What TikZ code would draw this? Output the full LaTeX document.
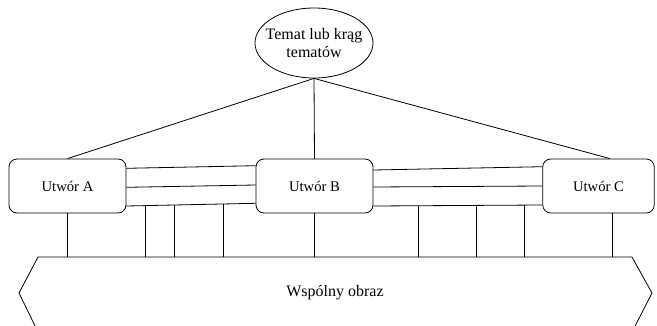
\documentclass[tikz,border=0pt]{standalone}
\usepackage{fontspec}
\setmainfont{Liberation Serif}
\usetikzlibrary{shapes.geometric,calc}
\begin{document}
\begin{tikzpicture}[x=0.75pt,y=-0.75pt,line width=0.6pt,
  txt/.style={font=\fontsize{12}{13.5}\selectfont,align=center},
  work/.style={draw,rounded corners=6pt,minimum width=87.75pt,minimum height=40.5pt,inner sep=0pt,txt,font=\fontsize{11}{13}\selectfont}]
\useasboundingbox (0,0) rectangle (657,325);
\clip (0,0) rectangle (657,325);
% theme
\node[draw,ellipse,minimum width=88.5pt,minimum height=52.5pt,inner sep=0pt] (theme) at (314,43) {};
\node[txt] (themetext) at (theme.center) {Temat lub krąg\\tematów};
% works
\node[work] (A) at (67.5,186) {Utwór A};
\node[work] (B) at (314.5,186) {Utwór B};
\node[work,minimum width=83.6pt] (C) at (598.5,186) {Utwór C};
% common image shape
\draw (38,332) -- (19,293) -- (38,257) -- (632,257) -- (652,293) -- (632,332);
\node[txt] (common) at (335,293) {Wspólny obraz};
\coordinate (ctop) at (0,257);
% theme to works
\draw (theme.south) -- (A.north);
\draw (theme.south) -- (B.north);
\draw (theme.south) -- ($(C.north)+(11.5,0)$);
% A-B links
\coordinate (ab1) at (A.east |- 0,168.3); \coordinate (ba1) at (B.west |- 0,165.7);
\coordinate (ab2) at (A.east |- 0,187.3); \coordinate (ba2) at (B.west |- 0,185);
\coordinate (ab3) at (A.east |- 0,206);   \coordinate (ba3) at (B.west |- 0,203.3);
\draw (ab1) -- (ba1); \draw (ab2) -- (ba2); \draw (ab3) -- (ba3);
% B-C links
\coordinate (bc1) at (B.east |- 0,170); \coordinate (cb1) at (C.west |- 0,166.7);
\coordinate (bc2) at (B.east |- 0,187); \coordinate (cb2) at (C.west |- 0,186);
\coordinate (bc3) at (B.east |- 0,206); \coordinate (cb3) at (C.west |- 0,205);
\draw (bc1) -- (cb1); \draw (bc2) -- (cb2); \draw (bc3) -- (cb3);
% verticals to common image
\draw ($(C.south)+(13.5,0)$) -- ($(C.south |- ctop)+(13.5,0)$);
\draw (A.south) -- (A.south |- ctop);
\draw (B.south) -- (B.south |- ctop);
\foreach \xx/\yy in {145/205.6,174/205,223/204,418/205.8,476/205.4,524/205.1}{
  \draw (\xx,\yy) -- (\xx,257);
}
\end{tikzpicture}
\end{document}
